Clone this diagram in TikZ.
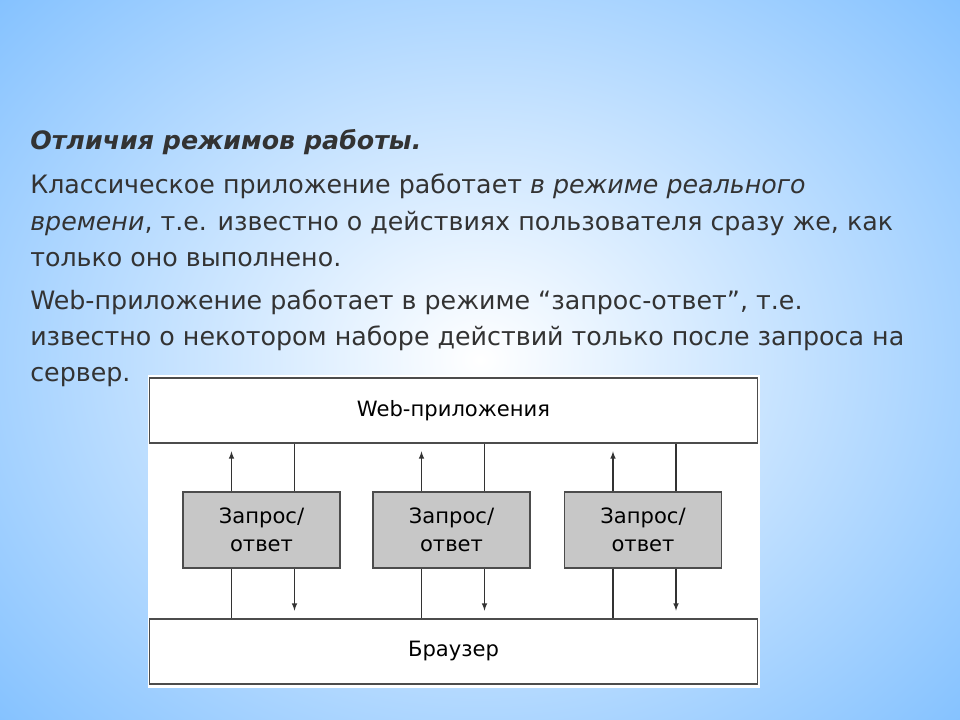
\documentclass[tikz,border=0pt]{standalone}
\usepackage{fontspec}
\setmainfont{DejaVu Sans}
\begin{document}
\begin{tikzpicture}[
    x=0.025cm, y=-0.025cm,
    every node/.style={font=\fontsize{18}{21}\selectfont, inner sep=0pt},
    line/.style={anchor=base west, text=black!80},
    layer/.style={draw=black!70, thick, fill=white, minimum width=15.175cm, minimum height=1.625cm, font=\fontsize{15}{17}\selectfont},
    reqbox/.style={draw=black!70, thick, fill=black!22, minimum width=3.925cm, minimum height=1.9cm, align=center, font=\fontsize{15}{20}\selectfont},
    link/.style={draw=black!80, thick},
    arrow/.style={-latex, draw=black!80, thick}
]

% Fond
\useasboundingbox (0,0) rectangle (960,720);
\begin{scope}
\clip (0,0) rectangle (960,720);
\shade[inner color=white, outer color=cyan!50!blue!50] (-200,-200) rectangle (1160,920);
\end{scope}

% Texte
\node[line, font=\bfseries\itshape\fontsize{18}{21}\selectfont] (title) at (30,150) {Отличия режимов работы.};
\node[line] (l1) at (30,194) {Классическое приложение работает \textit{в режиме реального}};
\node[line] (l2) at (30,231) {\textit{времени}, т.е. известно о действиях пользователя сразу же, как};
\node[line] (l3) at (30,267) {только оно выполнено.};
\node[line] (l4) at (30,310) {Web-приложение работает в режиме “запрос-ответ”, т.е.};
\node[line] (l5) at (30,346) {известно о некотором наборе действий только после запроса на};
\node[line] (l6) at (30,382) {сервер.};

% Schema
\fill[white] (148,375) rectangle (760,688);
\node[layer] (web) at (453.5,410.5) {Web-приложения};
\node[layer] (browser) at (453.5,651.5) {Браузер};

\foreach \i/\x in {1/261.5, 2/451.5, 3/643} {
    \node[reqbox] (req\i) at (\x,530) {Запрос/\\ответ};
    \coordinate (upA\i) at ([xshift=-0.75cm]req\i.north);
    \coordinate (upB\i) at ([xshift=-0.75cm, yshift=1cm]req\i.north);
    \coordinate (dnA\i) at ([xshift=0.825cm]req\i.south);
    \coordinate (dnB\i) at ([xshift=0.825cm, yshift=-1.05cm]req\i.south);
    \draw[link] ([xshift=-0.75cm]req\i.south) -- ([xshift=-0.75cm]req\i.south |- browser.north);
    \draw[arrow] (upA\i) -- (upB\i);
    \draw[link] ([xshift=0.825cm]req\i.north |- web.south) -- ([xshift=0.825cm]req\i.north);
    \draw[arrow] (dnA\i) -- (dnB\i);
}

\end{tikzpicture}
\end{document}
